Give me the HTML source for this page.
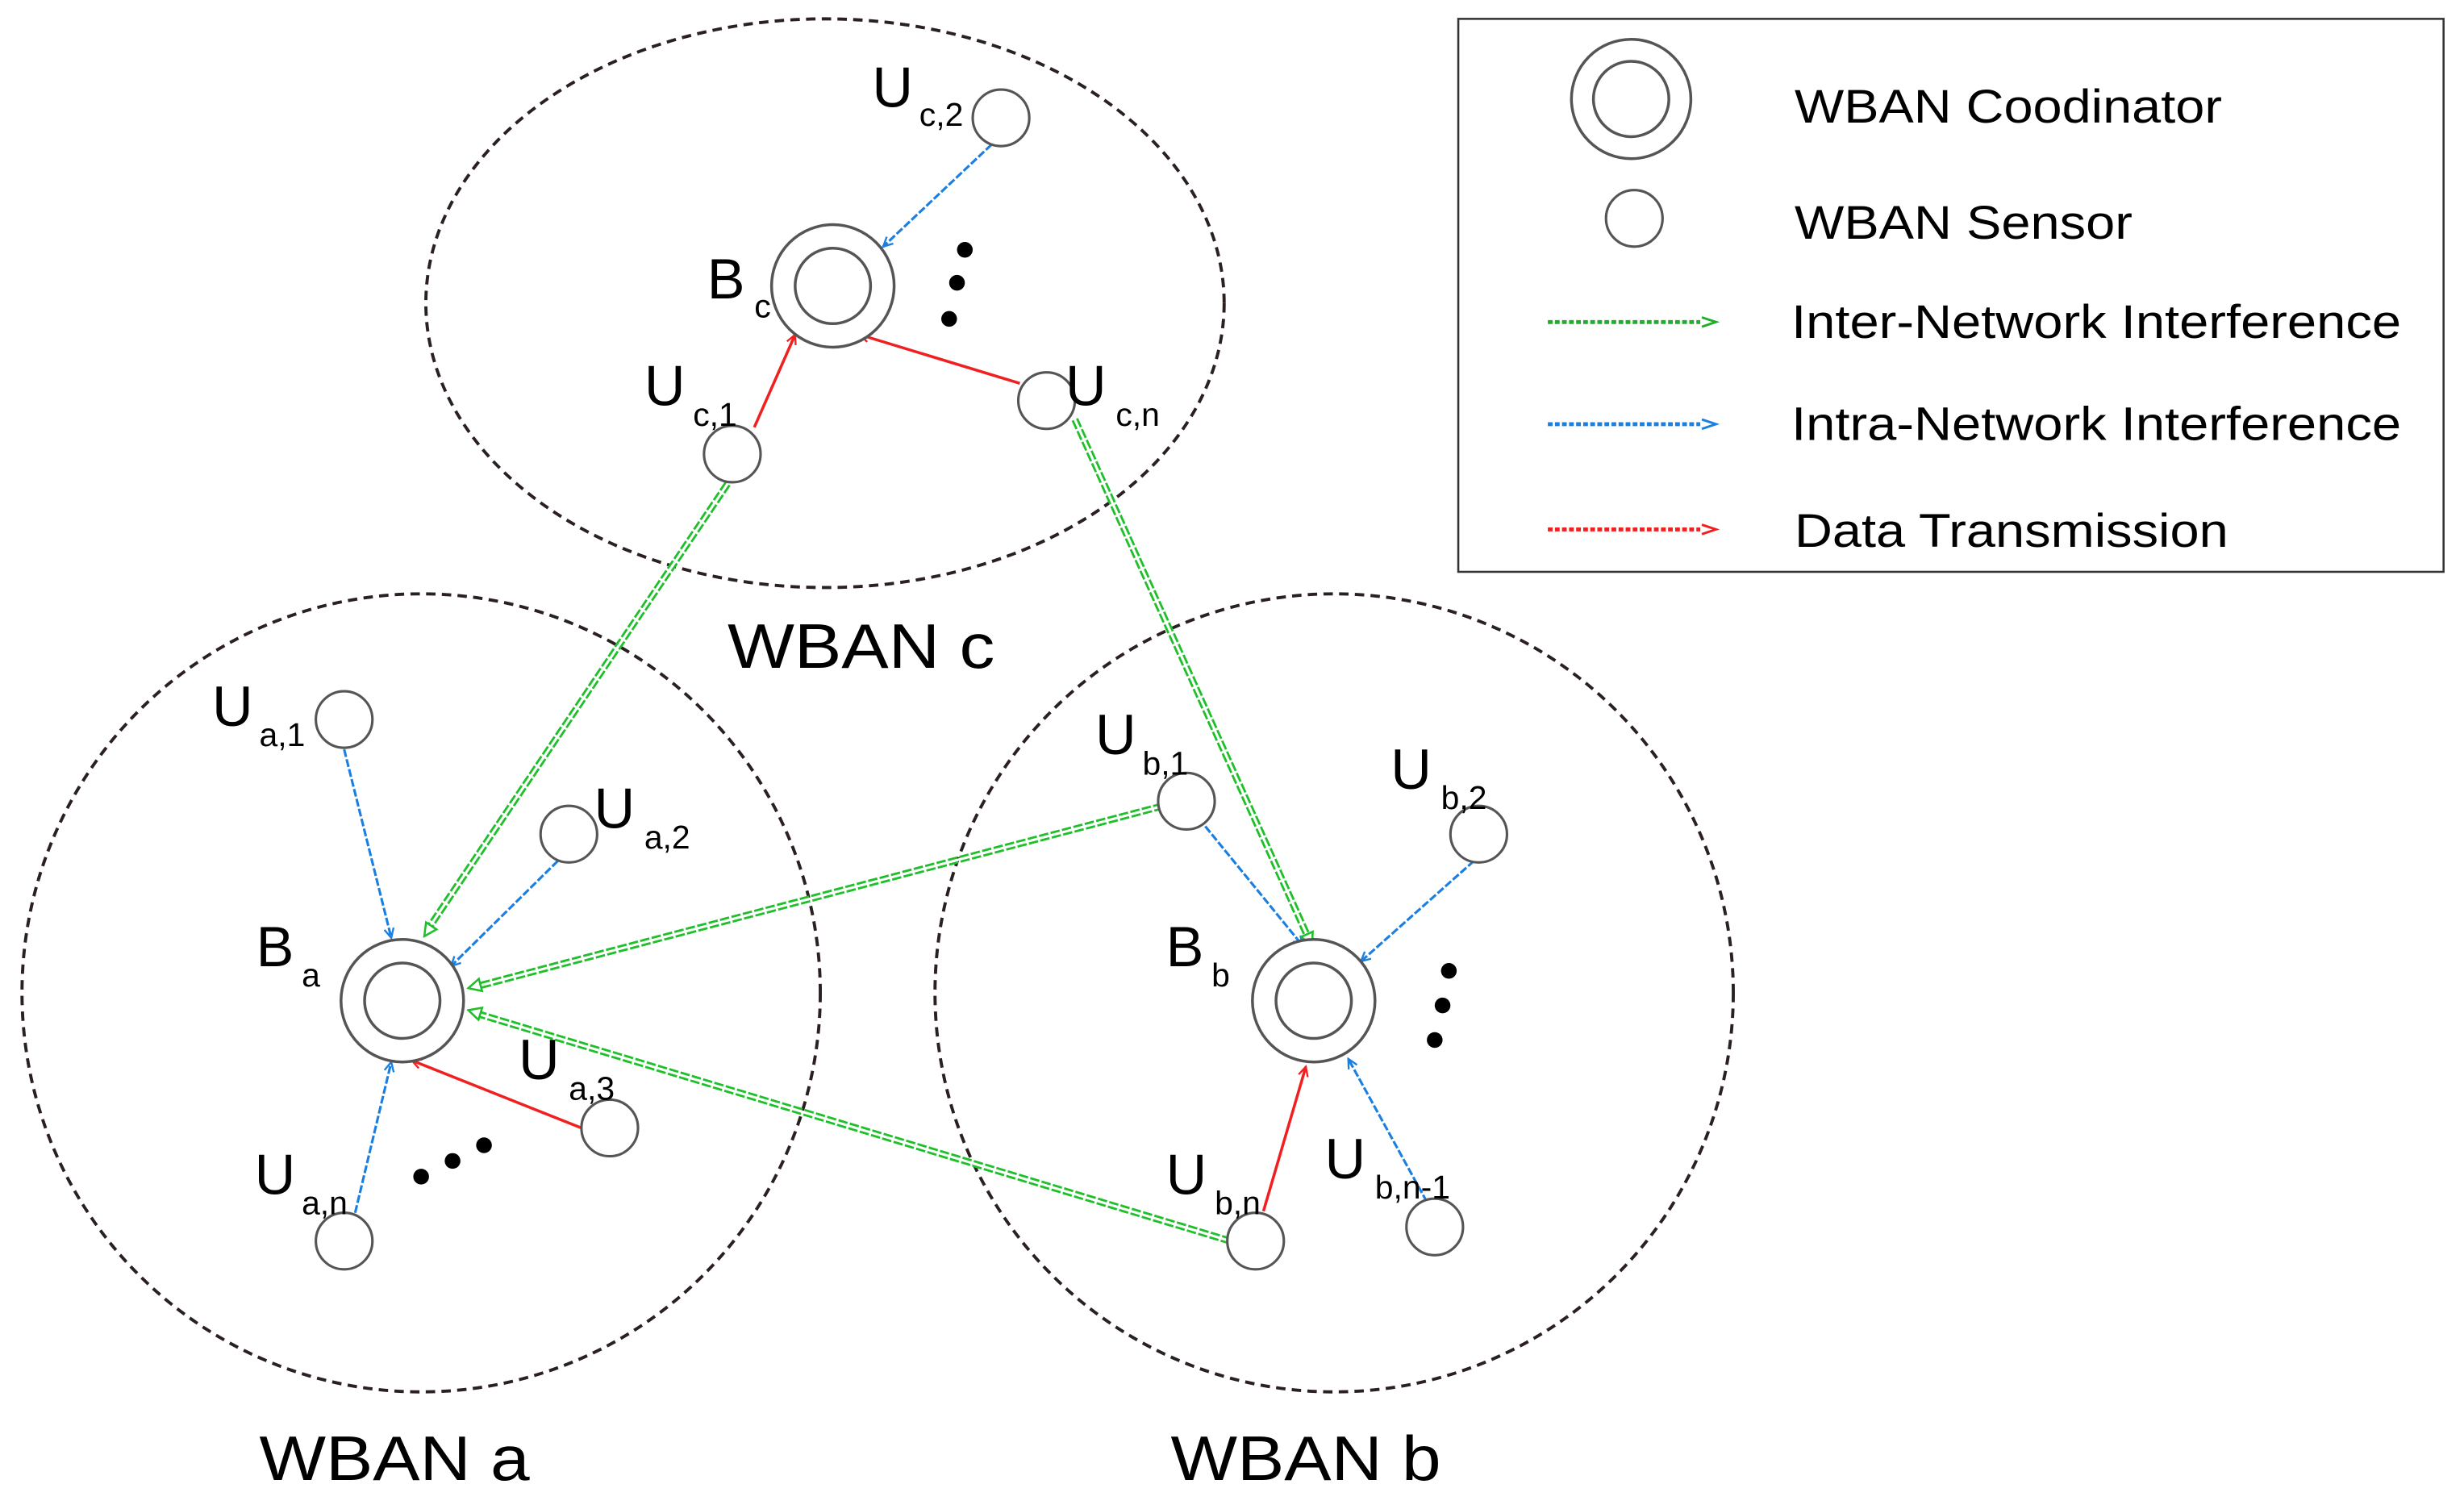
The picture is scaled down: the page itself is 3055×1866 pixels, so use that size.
<!DOCTYPE html>
<html><head><meta charset="utf-8"><style>
html,body{margin:0;padding:0;background:#fff;}
svg{display:block;}
text{font-family:"Liberation Sans",Arial,sans-serif;fill:#000;}
.U{font-size:36px;}
.s{font-size:21px;}
.lg{font-size:30px;}
</style></head><body>
<svg width="3055" height="1866" viewBox="0 0 1568 958" preserveAspectRatio="none" xmlns="http://www.w3.org/2000/svg">
<defs>
<marker id="ag" markerWidth="10" markerHeight="10" refX="9" refY="5" orient="auto" markerUnits="userSpaceOnUse"><path d="M1,1 L9,5 L1,9 Z" fill="#fff" stroke="#1fbf2a" stroke-width="1.3"/></marker>
<marker id="ab" markerWidth="8" markerHeight="8" refX="7" refY="4" orient="auto" markerUnits="userSpaceOnUse"><path d="M1,1 L7,4 L1,7" fill="none" stroke="#1a7fe0" stroke-width="1.2"/></marker>
<marker id="ar" markerWidth="8" markerHeight="8" refX="7" refY="4" orient="auto" markerUnits="userSpaceOnUse"><path d="M1,1 L7,4 L1,7" fill="none" stroke="#f02020" stroke-width="1.2"/></marker>
</defs>
<rect width="1568" height="958" fill="#fff"/>
<g fill="none" stroke="#2a2020" stroke-width="2" stroke-dasharray="6,4">
<ellipse cx="525" cy="193" rx="254" ry="181"/>
<ellipse cx="268" cy="632" rx="254" ry="254"/>
<ellipse cx="849" cy="632" rx="254" ry="254"/>
</g>
<rect x="928" y="12" width="627" height="352" fill="#fff" stroke="#333" stroke-width="1.3"/>
<g stroke="#1a7fe0" stroke-width="1.6" fill="none" stroke-dasharray="5,1.5" marker-end="url(#ab)">
<line x1="631" y1="92" x2="562" y2="157"/>
<line x1="219" y1="477" x2="249" y2="597"/>
<line x1="355" y1="548" x2="287" y2="615"/>
<line x1="226" y1="772" x2="249" y2="676"/>
<line x1="767" y1="526" x2="829" y2="602"/>
<line x1="938" y1="548" x2="866" y2="612"/>
<line x1="908" y1="765" x2="858" y2="674"/>
</g>
<g stroke="#f02020" stroke-width="1.8" fill="none" marker-end="url(#ar)">
<line x1="480" y1="272" x2="506" y2="213"/>
<line x1="649" y1="244" x2="547" y2="213"/>
<line x1="370" y1="718" x2="262" y2="675"/>
<line x1="804" y1="771" x2="831" y2="679"/>
</g>
<g fill="none">
<g stroke="#1fbf2a" stroke-width="4.5" stroke-dasharray="6,1.5">
<line x1="463" y1="308" x2="272" y2="592"/>
<line x1="684" y1="267" x2="833" y2="598"/>
<line x1="740" y1="513" x2="303" y2="628"/>
<line x1="783" y1="790" x2="303" y2="645"/>
</g>
<g stroke="#fff" stroke-width="1.6">
<line x1="463" y1="308" x2="272" y2="592"/>
<line x1="684" y1="267" x2="833" y2="598"/>
<line x1="740" y1="513" x2="303" y2="628"/>
<line x1="783" y1="790" x2="303" y2="645"/>
</g>
<g marker-end="url(#ag)">
<line x1="463" y1="308" x2="270" y2="596" stroke="transparent"/>
<line x1="684" y1="267" x2="835" y2="602" stroke="transparent"/>
<line x1="740" y1="513" x2="298" y2="629" stroke="transparent"/>
<line x1="783" y1="790" x2="298" y2="643" stroke="transparent"/>
</g>
</g>
<g fill="#fff" stroke="#555" stroke-width="1.8">
<circle cx="530" cy="182" r="39"/><circle cx="530" cy="182" r="24"/>
<circle cx="256" cy="637" r="39"/><circle cx="256" cy="637" r="24"/>
<circle cx="836" cy="637" r="39"/><circle cx="836" cy="637" r="24"/>
<circle cx="1038" cy="63" r="38"/><circle cx="1038" cy="63" r="24"/>
</g>
<g fill="#fff" stroke="#555" stroke-width="1.6">
<circle cx="637" cy="75" r="18"/>
<circle cx="466" cy="289" r="18"/>
<circle cx="666" cy="255" r="18"/>
<circle cx="219" cy="458" r="18"/>
<circle cx="362" cy="531" r="18"/>
<circle cx="388" cy="718" r="18"/>
<circle cx="219" cy="790" r="18"/>
<circle cx="755" cy="510" r="18"/>
<circle cx="941" cy="531" r="18"/>
<circle cx="799" cy="790" r="18"/>
<circle cx="913" cy="781" r="18"/>
<circle cx="1040" cy="139" r="18"/>
</g>
<g fill="#000">
<circle cx="614" cy="159" r="5"/><circle cx="609" cy="180" r="5"/><circle cx="604" cy="203" r="5"/>
<circle cx="922" cy="618" r="5"/><circle cx="918" cy="640" r="5"/><circle cx="913" cy="662" r="5"/>
<circle cx="268" cy="749" r="5"/><circle cx="288" cy="739" r="5"/><circle cx="308" cy="729" r="5"/>
</g>
<text class="U" x="555" y="68">U</text><text class="s" x="585" y="80">c,2</text>
<text class="U" x="450" y="190">B</text><text class="s" x="480" y="202">c</text>
<text class="U" x="410" y="258">U</text><text class="s" x="441" y="271">c,1</text>
<text class="U" x="678" y="258">U</text><text class="s" x="710" y="271">c,n</text>
<text class="U" x="135" y="462">U</text><text class="s" x="165" y="475">a,1</text>
<text class="U" x="378" y="527">U</text><text class="s" x="410" y="540">a,2</text>
<text class="U" x="163" y="615">B</text><text class="s" x="192" y="628">a</text>
<text class="U" x="330" y="687">U</text><text class="s" x="362" y="700">a,3</text>
<text class="U" x="162" y="760">U</text><text class="s" x="192" y="773">a,n</text>
<text class="U" x="697" y="480">U</text><text class="s" x="727" y="493">b,1</text>
<text class="U" x="885" y="502">U</text><text class="s" x="917" y="515">b,2</text>
<text class="U" x="742" y="615">B</text><text class="s" x="771" y="628">b</text>
<text class="U" x="742" y="760">U</text><text class="s" x="773" y="773">b,n</text>
<text class="U" x="843" y="750">U</text><text class="s" x="875" y="763">b,n-1</text>
<text x="463" y="425" font-size="40" textLength="170" lengthAdjust="spacingAndGlyphs">WBAN c</text>
<text x="165" y="942" font-size="40" textLength="172" lengthAdjust="spacingAndGlyphs">WBAN a</text>
<text x="745" y="942" font-size="40" textLength="172" lengthAdjust="spacingAndGlyphs">WBAN b</text>
<g stroke-width="2.5" stroke-dasharray="3,1.5" fill="none">
<line x1="985" y1="205" x2="1082" y2="205" stroke="#1fae2a"/>
<line x1="985" y1="270" x2="1082" y2="270" stroke="#1a7fe0"/>
<line x1="985" y1="337" x2="1082" y2="337" stroke="#f02020"/>
</g>
<path d="M1083,202 L1092,205 L1083,208" fill="none" stroke="#1fae2a" stroke-width="1.5"/>
<path d="M1083,267 L1092,270 L1083,273" fill="none" stroke="#1a7fe0" stroke-width="1.5"/>
<path d="M1083,334 L1092,337 L1083,340" fill="none" stroke="#f02020" stroke-width="1.5"/>
<text class="lg" x="1142" y="78" textLength="272" lengthAdjust="spacingAndGlyphs">WBAN Coodinator</text>
<text class="lg" x="1142" y="152" textLength="215" lengthAdjust="spacingAndGlyphs">WBAN Sensor</text>
<text class="lg" x="1140" y="215" textLength="388" lengthAdjust="spacingAndGlyphs">Inter-Network Interference</text>
<text class="lg" x="1140" y="280" textLength="388" lengthAdjust="spacingAndGlyphs">Intra-Network Interference</text>
<text class="lg" x="1142" y="348" textLength="276" lengthAdjust="spacingAndGlyphs">Data Transmission</text>
</svg>
</body></html>
